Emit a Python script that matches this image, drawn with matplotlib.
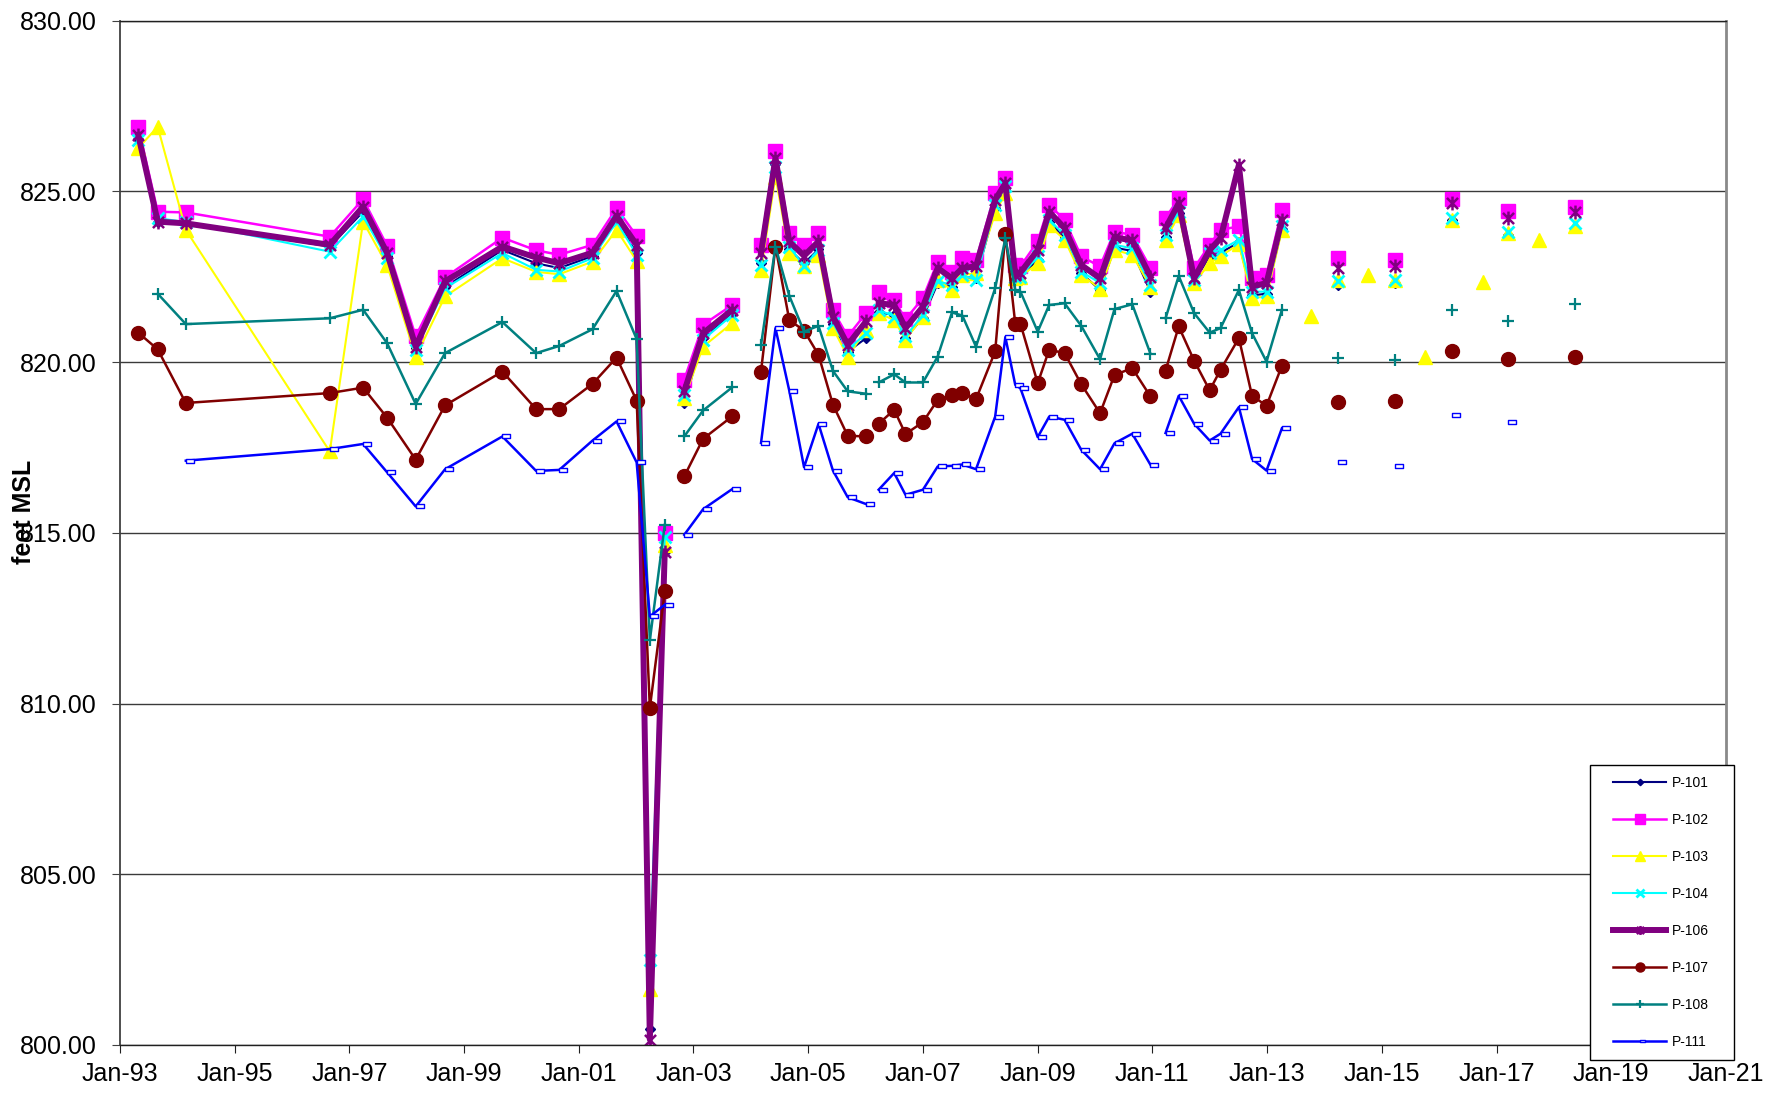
import datetime as dt
import numpy as np
import matplotlib
matplotlib.use("Agg")
import matplotlib.pyplot as plt
import matplotlib.dates as mdates
from matplotlib.path import Path
from matplotlib.patches import Rectangle

plt.rcParams['font.family'] = ['Liberation Sans', 'DejaVu Sans']

# ---------------- data ----------------
# main monitoring record (rows of None are blank rows -> breaks in the lines)
dates = ["1993-04-27", "1993-08-29", "1994-02-24", "1996-08-29", "1997-03-29", "1997-08-29",
         "1998-02-27", "1998-09-02", "1999-09-02", "2000-04-04", "2000-08-29", "2001-03-29",
         "2001-08-29", "2002-01-04", "2002-03-29", "2002-07-02", "2002-09-15", "2002-11-03",
         "2003-03-03", "2003-09-05", "2003-12-01", "2004-03-06", "2004-06-06", "2004-09-02",
         "2004-12-05", "2005-03-07", "2005-06-07", "2005-09-09", "2006-01-04", "2006-02-15",
         "2006-03-25", "2006-07-02", "2006-09-12", "2007-01-01", "2007-04-05", "2007-07-05",
         "2007-09-09", "2007-12-05", "2008-04-05", "2008-06-09", "2008-08-11", "2008-09-13",
         "2009-01-01", "2009-03-15", "2009-06-21", "2009-10-05", "2010-02-02", "2010-05-05",
         "2010-08-26", "2010-12-20", "2011-02-01", "2011-03-26", "2011-06-18", "2011-09-24",
         "2012-01-01", "2012-03-10", "2012-07-05", "2012-09-27", "2012-12-28", "2013-04-05"]

p101 = [826.52, 824.10, 824.06, 823.38, 824.40, 823.09, 820.40, 822.20, 823.28, 822.89, 822.75, 823.10,
        824.15, 823.19, 800.46, 814.45, None, 818.80, 820.70, 821.40, None, 822.89, 825.80, 823.30,
        822.89, 823.30, 821.10, 820.30, 820.70, None, 821.45, 821.38, 820.70, 821.30, 822.30, 822.20,
        822.50, 822.45, 824.50, 825.05, 822.40, 822.45, 823.00, 824.10, 823.65, 822.60, 822.11, 823.35,
        823.25, 822.06, None, 823.65, 824.35, 822.35, 823.10, 823.20, 823.50, 821.95, 822.00, 823.90]
p102 = [826.89, 824.40, 824.38, 823.67, 824.77, 823.40, 820.75, 822.48, 823.64, 823.27, 823.14, 823.43,
        824.50, 823.69, 799.50, 814.99, None, 819.48, 821.09, 821.67, None, 823.43, 826.18, 823.79,
        823.43, 823.77, 821.51, 820.75, 821.43, None, 822.06, 821.82, 821.25, 821.87, 822.94, 822.65,
        823.04, 822.99, 824.94, 825.38, 822.84, 822.80, 823.53, 824.60, 824.16, 823.09, 822.80, 823.82,
        823.72, 822.75, None, 824.21, 824.80, 822.75, 823.43, 823.87, 823.97, 822.45, 822.55, 824.45]
p103 = [826.26, 826.89, 823.87, 817.38, 824.11, 822.84, 820.16, 821.92, 823.04, 822.64, 822.57, 822.94,
        823.87, 822.96, 801.63, 814.65, None, 818.94, 820.45, 821.14, None, 822.70, 825.43, 823.19,
        822.80, 823.14, 820.99, 820.16, 820.94, None, 821.43, 821.23, 820.65, 821.33, 822.40, 822.11,
        822.55, 822.60, 824.36, 824.95, 822.45, 822.50, 822.89, 824.00, 823.58, 822.55, 822.15, 823.28,
        823.14, 822.20, None, 823.58, 824.30, 822.31, 822.89, 823.10, 823.45, 821.87, 821.92, 823.87]
p104 = [826.50, 824.21, 824.10, 823.23, 824.26, 823.04, 820.36, 822.16, 823.19, 822.70, 822.65, 823.04,
        824.11, 823.14, 802.50, 814.89, None, 819.04, 820.65, 821.38, None, 822.84, 825.72, 823.38,
        822.81, 823.28, 821.14, 820.36, 820.84, None, 821.53, 821.33, 820.75, 821.38, 822.36, 822.26,
        822.55, 822.40, 824.60, 825.14, 822.50, 822.50, 823.09, 824.16, 823.72, 822.65, 822.31, 823.43,
        823.33, 822.26, None, 823.72, 824.40, 822.40, 823.19, 823.28, 823.58, 822.06, 822.06, 823.97]
p106 = [826.65, 824.11, 824.06, 823.43, 824.55, 823.19, 820.45, 822.36, 823.38, 823.06, 822.89, 823.20,
        824.28, 823.43, 800.16, 814.45, None, 819.14, 820.84, 821.53, None, 823.19, 825.97, 823.53,
        823.11, 823.53, 821.33, 820.50, 821.19, None, 821.72, 821.67, 820.99, 821.62, 822.75, 822.45,
        822.75, 822.80, 824.75, 825.23, 822.55, 822.62, 823.28, 824.40, 823.92, 822.84, 822.45, 823.65,
        823.56, 822.50, None, 823.92, 824.65, 822.45, 823.28, 823.62, 825.77, 822.21, 822.31, 824.16]
p107 = [820.86, 820.37, 818.80, 819.09, 819.25, 818.37, 817.14, 818.73, 819.72, 818.62, 818.62, 819.36,
        820.13, 818.87, 809.87, 813.28, None, 816.65, 817.75, 818.41, None, 819.72, 823.38, 821.23,
        820.92, 820.21, 818.75, 817.84, 817.82, None, 818.19, 818.60, 817.89, 818.24, 818.89, 819.02,
        819.10, 818.91, 820.31, 823.75, 821.12, 821.12, 819.38, 820.36, 820.26, 819.35, 818.50, 819.62,
        819.82, 818.99, None, 819.75, 821.04, 820.04, 819.17, 819.77, 820.70, 819.01, 818.72, 819.89]
p108 = [None, 822.00, 821.11, 821.28, 821.53, 820.55, 818.77, 820.26, 821.17, 820.26, 820.47, 820.96,
        822.08, 820.67, 811.85, 815.23, None, 817.82, 818.58, 819.26, None, 820.50, 823.38, 821.94,
        820.89, 821.06, 819.74, 819.14, 819.07, None, 819.40, 819.64, 819.40, 819.40, 820.16, 821.45,
        821.36, 820.45, 822.16, 823.62, 822.11, 822.06, 820.89, 821.67, 821.72, 821.06, 820.08, 821.55,
        821.69, 820.24, None, 821.28, 822.52, 821.43, 820.86, 820.99, 822.11, 820.84, 820.01, 821.53]
p111 = [None, None, 817.11, 817.45, 817.60, 816.77, 815.77, 816.86, 817.82, 816.81, 816.84, 817.70,
        818.26, 817.06, 812.55, 812.89, None, 814.94, 815.69, 816.28, None, 817.63, 820.99, 819.16,
        816.92, 818.19, 816.82, 816.04, 815.84, None, 816.26, 816.75, 816.11, 816.26, 816.94, 816.96,
        817.00, 816.86, 818.40, 820.73, 819.33, 819.23, 817.80, 818.40, 818.31, 817.43, 816.86, 817.62,
        817.90, 816.99, None, 817.92, 819.01, 818.19, 817.70, 817.90, 818.68, 817.16, 816.82, 818.06]

# annual readings after 2013 (isolated points)
late_dates = ["2014-03-29", "2015-03-25", "2016-03-25", "2017-03-14", "2018-05-15"]
late_p101 = [822.26, 822.31, 824.15, 823.72, 823.92]
late_p102 = [823.04, 822.99, 824.77, 824.42, 824.53]
late_p103 = [822.40, 822.40, 824.16, 823.77, 823.97]
late_p104 = [822.36, 822.40, 824.21, 823.82, 824.06]
late_p106 = [822.75, 822.81, 824.65, 824.21, 824.40]
late_p107 = [818.84, 818.86, 820.31, 820.08, 820.14]
late_p108 = [820.11, 820.06, 821.53, 821.20, 821.70]
late_p111 = [817.06, 816.96, 818.45, 818.23, None]

# additional P-103 readings
extra_p103_dates = ["2013-10-05", "2014-10-05", "2015-10-05", "2016-10-09", "2017-09-27"]
extra_p103 = [821.35, 822.55, 820.14, 822.33, 823.58]

series_names = ["P-101", "P-102", "P-103", "P-104", "P-106", "P-107", "P-108", "P-111"]
tick_years = list(range(1993, 2022, 2))
y_ticks = [800, 805, 810, 815, 820, 825, 830]

# ---------------- styles ----------------
star = Path([(0, -1), (0, 1), (-0.8, -0.8), (0.8, 0.8), (-0.8, 0.8), (0.8, -0.8)],
            [Path.MOVETO, Path.LINETO, Path.MOVETO, Path.LINETO, Path.MOVETO, Path.LINETO])
dash = Path([(0.05, -0.2), (1, -0.2), (1, 0.2), (0.05, 0.2), (0.05, -0.2)],
            [Path.MOVETO, Path.LINETO, Path.LINETO, Path.LINETO, Path.CLOSEPOLY])

styles = {
    "P-101": dict(color="#000080", marker="D", ms=5, lw=1.5),
    "P-102": dict(color="#FF00FF", marker="s", ms=10, lw=1.8),
    "P-103": dict(color="#FFFF00", marker="^", ms=10.5, lw=1.5),
    "P-104": dict(color="#00FFFF", marker="x", ms=8.5, lw=1.5, mew=2),
    "P-106": dict(color="#800080", marker=star, ms=10, lw=4.3, mew=1.8, mfc="none"),
    "P-107": dict(color="#800000", marker="o", ms=10, lw=1.8),
    "P-108": dict(color="#008080", marker="+", ms=8, lw=1.8, mew=1.6),
    "P-111": dict(color="#0000FF", marker=dash, ms=11.5, lw=1.8, mfc="white", mew=1.0),
}


def to_arr(vals):
    return np.array([np.nan if v is None else v for v in vals], dtype=float)


def to_dates(ds):
    return [dt.datetime.strptime(d, "%Y-%m-%d") for d in ds]


main = dict(zip(series_names, [p101, p102, p103, p104, p106, p107, p108, p111]))
late = dict(zip(series_names, [late_p101, late_p102, late_p103, late_p104,
                               late_p106, late_p107, late_p108, late_p111]))

# ---------------- figure ----------------
fig = plt.figure(figsize=(17.85, 10.93), dpi=100)
ax = fig.add_axes([120 / 1785, 48 / 1093, 1606 / 1785, 1024.5 / 1093])
ax.set_axisbelow(True)

x_main = to_dates(dates)
x_late = to_dates(late_dates)
handles = []
for name in series_names:
    st = dict(styles[name])
    col = st.pop("color")
    lw = st.pop("lw")
    st.setdefault("mec", col)
    st.setdefault("mfc", col)
    ln, = ax.plot(x_main, to_arr(main[name]), color=col, lw=lw, **st)
    ax.plot(x_late, to_arr(late[name]), color=col, lw=lw, ls="none", **st)
    if name == "P-103":
        ax.plot(to_dates(extra_p103_dates), extra_p103, color=col, ls="none", **st)
    handles.append(ln)

ax.set_xlim(dt.datetime(1993, 1, 1), dt.datetime(2021, 1, 1))
ax.set_ylim(800, 830)
ax.set_yticks(y_ticks)
ax.yaxis.set_major_formatter(matplotlib.ticker.FormatStrFormatter("%.2f"))
ax.xaxis.set_major_locator(matplotlib.ticker.FixedLocator(
    mdates.date2num([dt.datetime(y, 1, 1) for y in tick_years])))
ax.xaxis.set_major_formatter(mdates.DateFormatter("%b-%y"))

ax.grid(axis="y", color="#3a3a3a", lw=1.0)
ax.tick_params(axis="y", labelsize=18, length=6, pad=11, color="#404040")
ax.tick_params(axis="x", labelsize=18, length=6, pad=6.5, color="#202020")

ax.spines["left"].set_color("#404040")
ax.spines["left"].set_linewidth(1.3)
ax.spines["bottom"].set_color("#202020")
ax.spines["bottom"].set_linewidth(1.0)
ax.spines["top"].set_color("#202020")
ax.spines["top"].set_linewidth(1.0)
ax.spines["right"].set_color("#8a8a8a")
ax.spines["right"].set_linewidth(2.0)

ax.set_ylabel("feet MSL", fontsize=18, fontweight="bold")
ax.yaxis.label.set_va("center")
ax.yaxis.set_label_coords(-0.0598, 0.52)

# legend box
fig.add_artist(Rectangle((1590 / 1785, 1 - 1060 / 1093), (1734 - 1590) / 1785, (1060 - 765) / 1093,
                         transform=fig.transFigure, facecolor="white", edgecolor="black",
                         lw=1.0, zorder=4))
fig.legend(handles, series_names, loc="center",
           bbox_to_anchor=(1661 / 1785, 1 - 912.5 / 1093), frameon=False, fontsize=10,
           handlelength=3.8, handletextpad=0.4, labelspacing=1.65, borderpad=0,
           markerscale=0.65)

fig.savefig("out.png", dpi=100)
